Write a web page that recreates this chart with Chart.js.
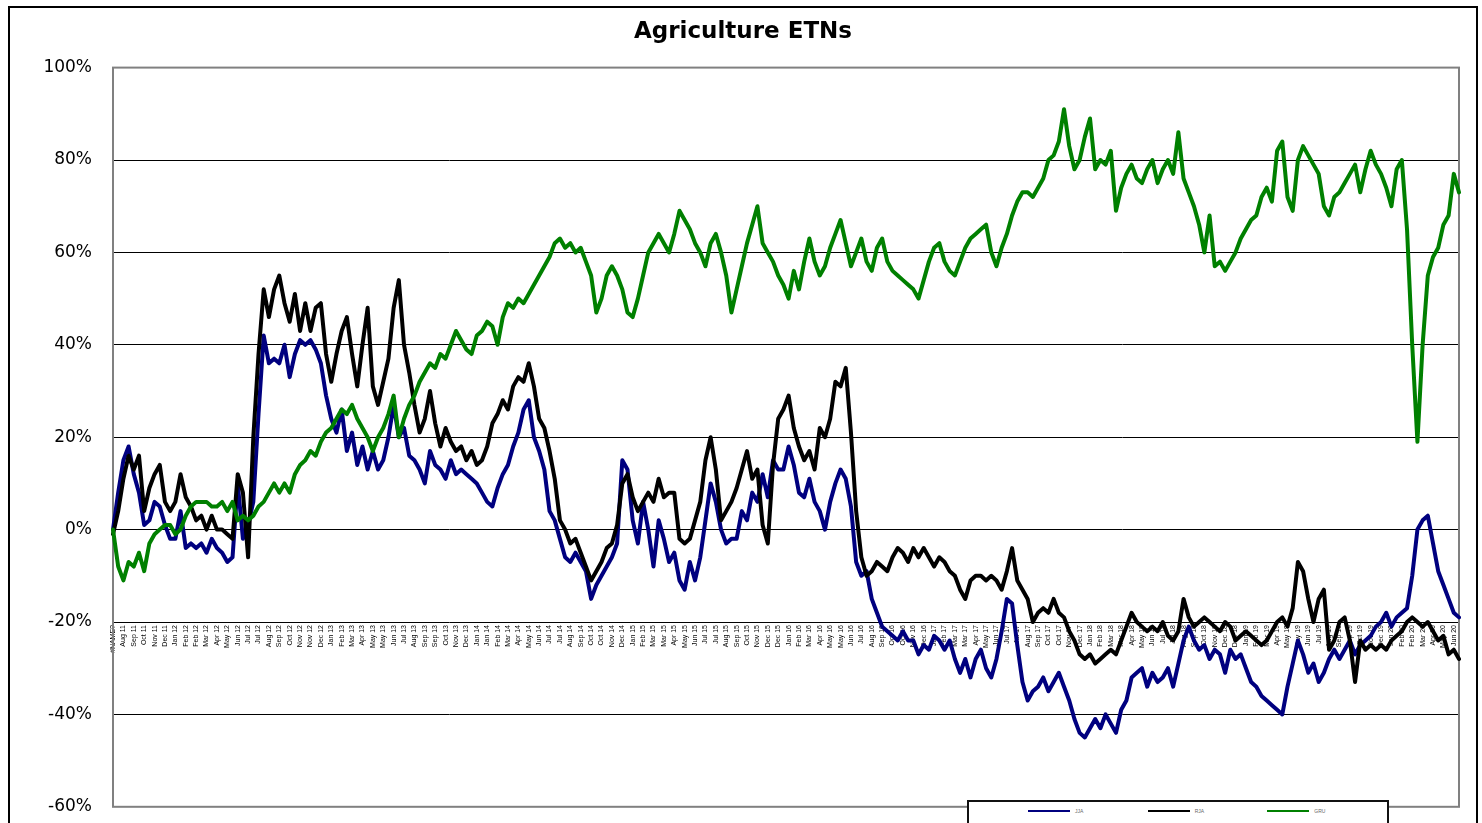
<!DOCTYPE html>
<html>
<head>
<meta charset="utf-8">
<title>Agriculture ETNs</title>
<script src="https://cdn.jsdelivr.net/npm/chart.js@4/dist/chart.umd.min.js"></script>
<style>
  body { margin: 0; overflow: hidden; background: #fff; }
  #frame { position: absolute; left: 8px; top: 6px; width: 1466px; height: 850px; border: 2px solid #000; background: #fff; }
  #chart { display: block; }
  #legend { position: absolute; left: 957px; top: 792px; width: 359px; height: 40px; padding-left: 59px;
            border: 2px solid #111; background: #fff; display: flex; }
  #legend .item { width: 124.5px; display: flex; align-items: flex-start; }
  #legend .item i { display: block; width: 42px; margin-top: 8px; border-top: 2px solid #000; }
  #legend .item b { font: 5px "Liberation Sans", Arial, sans-serif; color: #666; margin: 6px 0 0 5px; }
</style>
</head>
<body>
<div id="frame">
  <canvas id="chart" width="1466" height="830"></canvas>
  <div id="legend"></div>
</div>
<script>
// === Datos ===
const tickLabels = [
  '#NAME?', 'Aug 11', 'Sep 11', 'Oct 11', 'Nov 11', 'Dec 11', 'Jan 12', 'Feb 12', 'Feb 12', 'Mar 12',
  'Apr 12', 'May 12', 'Jun 12', 'Jul 12', 'Jul 12', 'Aug 12', 'Sep 12', 'Oct 12', 'Nov 12', 'Nov 12',
  'Dec 12', 'Jan 13', 'Feb 13', 'Mar 13', 'Apr 13', 'May 13', 'May 13', 'Jun 13', 'Jul 13', 'Aug 13',
  'Sep 13', 'Sep 13', 'Oct 13', 'Nov 13', 'Dec 13', 'Jan 14', 'Jan 14', 'Feb 14', 'Mar 14', 'Apr 14',
  'May 14', 'Jun 14', 'Jul 14', 'Jul 14', 'Aug 14', 'Sep 14', 'Oct 14', 'Oct 14', 'Nov 14', 'Dec 14',
  'Jan 15', 'Feb 15', 'Mar 15', 'Mar 15', 'Apr 15', 'May 15', 'Jun 15', 'Jul 15', 'Jul 15', 'Aug 15',
  'Sep 15', 'Oct 15', 'Nov 15', 'Dec 15', 'Dec 15', 'Jan 16', 'Feb 16', 'Mar 16', 'Apr 16', 'May 16',
  'May 16', 'Jun 16', 'Jul 16', 'Aug 16', 'Sep 16', 'Oct 16', 'Oct 16', 'Nov 16', 'Dec 16', 'Jan 17',
  'Feb 17', 'Mar 17', 'Mar 17', 'Apr 17', 'May 17', 'Jun 17', 'Jul 17', 'Jul 17', 'Aug 17', 'Sep 17',
  'Oct 17', 'Oct 17', 'Nov 17', 'Dec 17', 'Jan 18', 'Feb 18', 'Mar 18', 'Mar 18', 'Apr 18', 'May 18',
  'Jun 18', 'Jul 18', 'Jul 18', 'Aug 18', 'Sep 18', 'Oct 18', 'Nov 18', 'Dec 18', 'Dec 18', 'Jan 19',
  'Feb 19', 'Mar 19', 'Apr 19', 'May 19', 'May 19', 'Jun 19', 'Jul 19', 'Aug 19', 'Sep 19', 'Sep 19',
  'Oct 19', 'Nov 19', 'Dec 19', 'Jan 20', 'Feb 20', 'Feb 20', 'Mar 20', 'Apr 20', 'May 20', 'Jun 20'
];

// two observations per tick label (%)
const serieAzul = [
  0, 8, 15, 18, 12, 8, 1, 2, 6, 5,
  1, -2, -2, 4, -4, -3, -4, -3, -5, -2,
  -4, -5, -7, -6, 10, -2, 1, 6, 25, 42,
  36, 37, 36, 40, 33, 38, 41, 40, 41, 39,
  36, 29, 24, 21, 26, 17, 21, 14, 18, 13,
  17, 13, 15, 20, 27, 20, 22, 16, 15, 13,
  10, 17, 14, 13, 11, 15, 12, 13, 12, 11,
  10, 8, 6, 5, 9, 12, 14, 18, 21, 26,
  28, 20, 17, 13, 4, 2, -2, -6, -7, -5,
  -7, -9, -15, -12, -10, -8, -6, -3, 15, 13,
  2, -3, 6, 0, -8, 2, -2, -7, -5, -11,
  -13, -7, -11, -6, 2, 10, 6, 0, -3, -2,
  -2, 4, 2, 8, 6, 12, 7, 15, 13, 13,
  18, 14, 8, 7, 11, 6, 4, 0, 6, 10,
  13, 11, 5, -7, -10, -9, -15, -18, -21, -22,
  -23, -24, -22, -24, -24, -27, -25, -26, -23, -24,
  -26, -24, -28, -31, -28, -32, -28, -26, -30, -32,
  -28, -22, -15, -16, -25, -33, -37, -35, -34, -32,
  -35, -33, -31, -34, -37, -41, -44, -45, -43, -41,
  -43, -40, -42, -44, -39, -37, -32, -31, -30, -34,
  -31, -33, -32, -30, -34, -29, -24, -21, -24, -26,
  -25, -28, -26, -27, -31, -26, -28, -27, -30, -33,
  -34, -36, -37, -38, -39, -40, -34, -29, -24, -27,
  -31, -29, -33, -31, -28, -26, -28, -26, -24, -27,
  -25, -24, -23, -21, -20, -18, -21, -19, -18, -17,
  -10, 0, 2, 3, -3, -9, -12, -15, -18, -19
];

const serieNegra = [
  -1, 4, 11, 16, 13, 16, 4, 9, 12, 14,
  6, 4, 6, 12, 7, 5, 2, 3, 0, 3,
  0, 0, -1, -2, 12, 8, -6, 20, 38, 52,
  46, 52, 55, 49, 45, 51, 43, 49, 43, 48,
  49, 38, 32, 38, 43, 46, 38, 31, 40, 48,
  31, 27, 32, 37, 48, 54, 40, 34, 27, 21,
  24, 30, 23, 18, 22, 19, 17, 18, 15, 17,
  14, 15, 18, 23, 25, 28, 26, 31, 33, 32,
  36, 31, 24, 22, 17, 11, 2, 0, -3, -2,
  -5, -8, -11, -9, -7, -4, -3, 1, 10, 12,
  7, 4, 6, 8, 6, 11, 7, 8, 8, -2,
  -3, -2, 2, 6, 15, 20, 13, 2, 4, 6,
  9, 13, 17, 11, 13, 1, -3, 14, 24, 26,
  29, 22, 18, 15, 17, 13, 22, 20, 24, 32,
  31, 35, 21, 4, -6, -10, -9, -7, -8, -9,
  -6, -4, -5, -7, -4, -6, -4, -6, -8, -6,
  -7, -9, -10, -13, -15, -11, -10, -10, -11, -10,
  -11, -13, -9, -4, -11, -13, -15, -20, -18, -17,
  -18, -15, -18, -19, -22, -24, -27, -28, -27, -29,
  -28, -27, -26, -27, -24, -21, -18, -20, -21, -22,
  -21, -22, -20, -23, -24, -22, -15, -19, -21, -20,
  -19, -20, -21, -22, -20, -21, -24, -23, -22, -23,
  -24, -25, -24, -22, -20, -19, -21, -17, -7, -9,
  -15, -20, -15, -13, -26, -24, -20, -19, -24, -33,
  -24, -26, -25, -26, -25, -26, -24, -23, -22, -20,
  -19, -20, -21, -20, -22, -24, -23, -27, -26, -28
];

const serieVerde = [
  0, -8, -11, -7, -8, -5, -9, -3, -1, 0,
  1, 1, -1, 0, 3, 5, 6, 6, 6, 5,
  5, 6, 4, 6, 2, 3, 2, 3, 5, 6,
  8, 10, 8, 10, 8, 12, 14, 15, 17, 16,
  19, 21, 22, 24, 26, 25, 27, 24, 22, 20,
  17, 20, 22, 25, 29, 20, 24, 27, 29, 32,
  34, 36, 35, 38, 37, 40, 43, 41, 39, 38,
  42, 43, 45, 44, 40, 46, 49, 48, 50, 49,
  51, 53, 55, 57, 59, 62, 63, 61, 62, 60,
  61, 58, 55, 47, 50, 55, 57, 55, 52, 47,
  46, 50, 55, 60, 62, 64, 62, 60, 64, 69,
  67, 65, 62, 60, 57, 62, 64, 60, 55, 47,
  52, 57, 62, 66, 70, 62, 60, 58, 55, 53,
  50, 56, 52, 58, 63, 58, 55, 57, 61, 64,
  67, 62, 57, 60, 63, 58, 56, 61, 63, 58,
  56, 55, 54, 53, 52, 50, 54, 58, 61, 62,
  58, 56, 55, 58, 61, 63, 64, 65, 66, 60,
  57, 61, 64, 68, 71, 73, 73, 72, 74, 76,
  80, 81, 84, 91, 83, 78, 80, 85, 89, 78,
  80, 79, 82, 69, 74, 77, 79, 76, 75, 78,
  80, 75, 78, 80, 77, 86, 76, 73, 70, 66,
  60, 68, 57, 58, 56, 58, 60, 63, 65, 67,
  68, 72, 74, 71, 82, 84, 72, 69, 80, 83,
  81, 79, 77, 70, 68, 72, 73, 75, 77, 79,
  73, 78, 82, 79, 77, 74, 70, 78, 80, 65,
  40, 19, 40, 55, 59, 61, 66, 68, 77, 73
];

const nombres = ['JJA', 'RJA', 'GRU'];

// una etiqueta visible cada dos puntos
const etiquetas = tickLabels.flatMap(t => [t, '']);

// === Borde del área de trazado ===
const bordeArea = {
  id: 'bordeArea',
  beforeDatasetsDraw(chart) {
    const { ctx, chartArea: a } = chart;
    ctx.save();
    ctx.strokeStyle = '#808080';
    ctx.lineWidth = 2;
    ctx.strokeRect(a.left, a.top, a.right - a.left, a.bottom - a.top);
    ctx.restore();
  }
};

// === Gráfico ===
const chart = new Chart(document.getElementById('chart'), {
  type: 'line',
  data: {
    labels: etiquetas,
    datasets: [
      { label: nombres[0], data: serieAzul, borderColor: '#00007f', order: 3 },
      { label: nombres[1], data: serieNegra, borderColor: '#000000', order: 2 },
      { label: nombres[2], data: serieVerde, borderColor: '#008000', order: 1 }
    ]
  },
  options: {
    responsive: false,
    animation: false,
    layout: { padding: { left: 0, right: 0, top: 0, bottom: 17 } },
    elements: {
      line: { borderWidth: 4, tension: 0, borderJoinStyle: 'round', borderCapStyle: 'round' },
      point: { radius: 0 }
    },
    plugins: {
      title: {
        display: true,
        text: 'Agriculture ETNs',
        color: '#000',
        font: { family: 'DejaVu Sans', size: 23, weight: 'bold' },
        padding: { top: 10, bottom: 22 }
      },
      legend: { display: false },
      tooltip: { enabled: false }
    },
    scales: {
      x: {
        type: 'category',
        position: { y: -20 },
        offset: false,
        grid: { display: false, drawTicks: false },
        border: { display: false },
        ticks: {
          autoSkip: false,
          minRotation: 90,
          maxRotation: 90,
          padding: 3,
          color: '#000',
          font: { family: 'Liberation Sans', size: 7 }
        }
      },
      y: {
        min: -60,
        max: 100,
        grid: {
          drawTicks: false,
          lineWidth: 1,
          color: c => (c.tick.value === 100 || c.tick.value === -60) ? '#808080' : '#000000'
        },
        border: { display: false },
        ticks: {
          stepSize: 20,
          padding: 21,
          color: '#000',
          font: { family: 'DejaVu Sans', size: 17 },
          callback: v => v + '%'
        },
        afterFit: s => { s.width = 103; }
      },
      // margen derecho vacío, para que el título quede centrado en el marco
      margenDer: {
        position: 'right',
        grid: { display: false },
        border: { display: false },
        ticks: { display: false },
        afterFit: s => { s.width = 17; }
      }
    }
  },
  plugins: [bordeArea]
});

// === Leyenda ===
const caja = document.getElementById('legend');
chart.data.datasets.forEach(ds => {
  const item = document.createElement('span');
  item.className = 'item';
  const linea = document.createElement('i');
  linea.style.borderTopColor = ds.borderColor;
  const texto = document.createElement('b');
  texto.textContent = ds.label;
  item.appendChild(linea);
  item.appendChild(texto);
  caja.appendChild(item);
});
</script>
</body>
</html>
